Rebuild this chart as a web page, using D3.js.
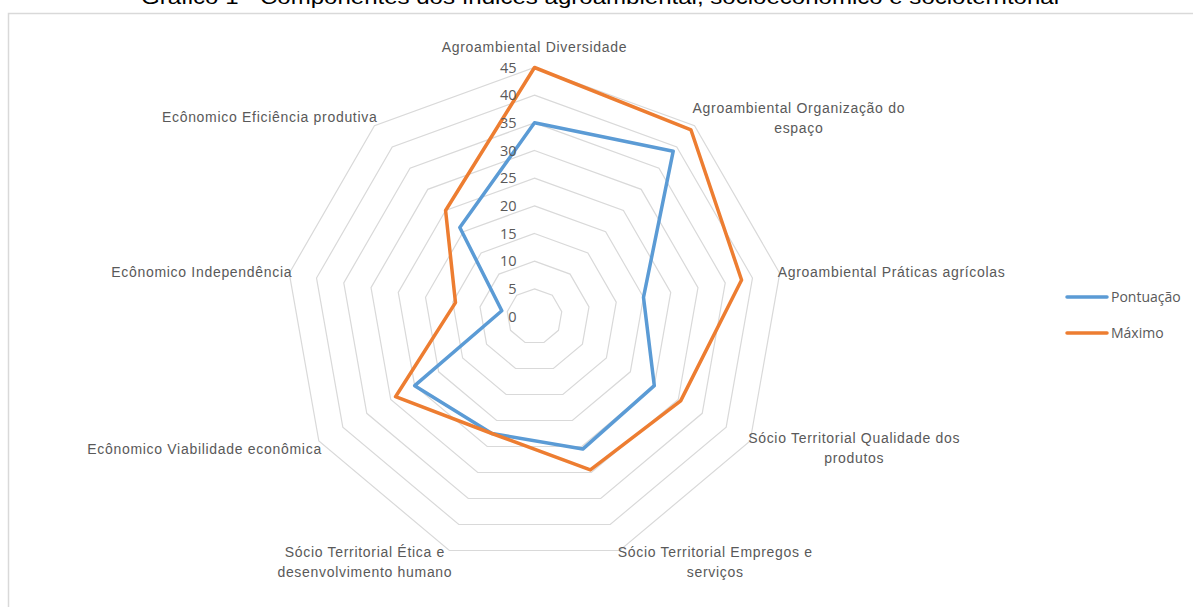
<!DOCTYPE html>
<html>
<head>
<meta charset="utf-8">
<script src="https://cdn.jsdelivr.net/npm/d3@7/dist/d3.min.js"></script>
<style>
  html, body { margin: 0; padding: 0; background: #fff; }
  svg { display: block; }
</style>
</head>
<body>
<svg id="chart" width="1193" height="607"></svg>
<script>
// Radar chart: components of the agro-environmental, economic and socio-territorial indices
const categories = [
  ["Agroambiental Diversidade"],
  ["Agroambiental Organização do", "espaço"],
  ["Agroambiental Práticas agrícolas"],
  ["Sócio Territorial Qualidade dos", "produtos"],
  ["Sócio Territorial Empregos e", "serviços"],
  ["Sócio Territorial Ética e", "desenvolvimento humano"],
  ["Ecônomico Viabilidade econômica"],
  ["Ecônomico Independência"],
  ["Ecônomico Eficiência produtiva"]
];
const pontuacao = [35, 39, 20, 25, 25.5, 22.5, 25, 6, 21];
const maximo    = [45, 44, 38, 30.5, 29.5, 22.5, 29, 14.5, 25];
const tickValues = [0, 5, 10, 15, 20, 25, 30, 35, 40, 45];
const seriesNames = ["Pontuação", "Máximo"];
const seriesColors = ["#5B9BD5", "#ED7D31"];

const svg = d3.select("#chart");
const W = 1193, H = 607;
const cx = 534.5, cy = 316.5;

// chart frame
svg.append("rect")
  .attr("x", 8.5).attr("y", 13.5)
  .attr("width", W + 20).attr("height", H + 20)
  .attr("fill", "none").attr("stroke", "#D9D9D9").attr("stroke-width", 1.5);

// title (partly above the visible area)
svg.append("text")
  .attr("x", 600).attr("y", 4)
  .attr("text-anchor", "middle")
  .attr("font-family", "Liberation Sans, Arial, sans-serif")
  .attr("font-size", 20)
  .attr("fill", "#000")
  .attr("textLength", 918)
  .attr("lengthAdjust", "spacingAndGlyphs")
  .text("Gráfico 1 - Componentes dos índices agroambiental, socioeconômico e socioterritorial");

const r = d3.scaleLinear().domain([0, 45]).range([0, 249]);
const angle = d3.scaleLinear().domain([0, categories.length]).range([0, 2 * Math.PI]);

const g = svg.append("g").attr("transform", `translate(${cx},${cy})`);

const radial = d3.lineRadial()
  .angle((d, i) => angle(i))
  .radius(d => r(d))
  .curve(d3.curveLinearClosed);

// grid rings
g.selectAll("path.ring")
  .data(tickValues.filter(v => v > 0))
  .join("path")
  .attr("class", "ring")
  .attr("d", v => radial(categories.map(() => v)))
  .attr("fill", "none")
  .attr("stroke", "#D9D9D9")
  .attr("stroke-width", 1.2);

// series
const series = [pontuacao, maximo];
g.selectAll("path.series")
  .data(series)
  .join("path")
  .attr("class", "series")
  .attr("d", d => radial(d))
  .attr("fill", "none")
  .attr("stroke", (d, i) => seriesColors[i])
  .attr("stroke-width", 3.5)
  .attr("stroke-linejoin", "round");

// value axis labels
g.selectAll("text.tick")
  .data(tickValues)
  .join("text")
  .attr("class", "tick")
  .attr("x", -18)
  .attr("y", v => -r(v))
  .attr("dy", "0.35em")
  .attr("text-anchor", "end")
  .attr("font-family", "Open Sans, sans-serif")
  .attr("font-size", 14.5)
  .attr("fill", "#595959")
  .text(v => v);

// category labels placed just outside the outer ring
const outer = r(45);
const lineH = 20;
categories.forEach((lines, i) => {
  const a = angle(i);
  const s = Math.sin(a), c = Math.cos(a);
  const vx = s * outer, vy = -c * outer;
  let anchor = "middle", dx = 0;
  if (s > 0.1) { anchor = "start"; dx = -2; }
  else if (s < -0.1) { anchor = "end"; dx = 3; }
  const n = lines.length;
  let y0;
  if (c > 0.9) y0 = vy - 16;                                // top
  else if (c > 0.3) y0 = vy - 4 - (n - 1) * (lineH - 11);   // upper sides
  else if (c > -0.3) y0 = vy + 4 - (n - 1) * lineH / 2;     // middle sides
  else if (c > -0.7) y0 = n > 1 ? vy + 2 : vy + 13;         // lower sides
  else y0 = vy + 7;                                         // bottom
  const t = g.append("text")
    .attr("font-family", "Liberation Sans, Arial, sans-serif")
    .attr("font-size", 14)
    .attr("letter-spacing", 0.7)
    .attr("fill", "#595959");
  lines.forEach((str, k) => {
    t.append("tspan")
      .attr("x", vx + dx)
      .attr("y", y0 + k * lineH)
      .attr("text-anchor", n > 1 ? "middle" : anchor)
      .text(str);
  });
  // center multi-line blocks on their widest line
  if (n > 1) {
    const widths = [];
    t.selectAll("tspan").each(function () { widths.push(this.getComputedTextLength()); });
    const wmax = d3.max(widths);
    const centerX = anchor === "start" ? vx + dx + wmax / 2 : vx + dx - wmax / 2;
    t.selectAll("tspan").attr("x", centerX);
  }
});

// legend
const legend = svg.append("g").attr("transform", "translate(1067,297)");
seriesNames.forEach((name, i) => {
  const row = legend.append("g").attr("transform", `translate(0,${i * 36})`);
  row.append("line")
    .attr("x1", 0).attr("x2", 40).attr("y1", 0).attr("y2", 0)
    .attr("stroke", seriesColors[i]).attr("stroke-width", 3.5)
    .attr("stroke-linecap", "round");
  row.append("text")
    .attr("x", 44).attr("y", 0).attr("dy", "0.35em")
    .attr("font-family", "Open Sans, sans-serif")
    .attr("font-size", 14)
    .attr("fill", "#595959")
    .text(name);
});
</script>
</body>
</html>
